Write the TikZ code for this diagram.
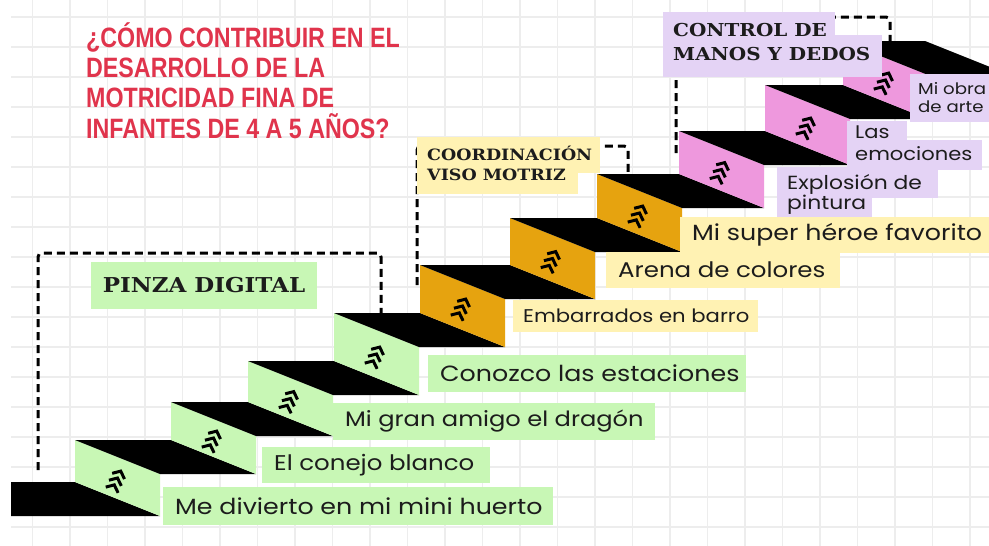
\documentclass[tikz,border=0pt]{standalone}
\usepackage{fontspec}
\newfontfamily\bodyfont[FakeStretch=1.15]{Poppins}
\newfontfamily\titlefont[FakeStretch=0.83]{Liberation Sans}
\newfontfamily\secfont[FakeStretch=1.12]{DejaVu Serif}
\definecolor{gfill}{HTML}{C8F7B5}
\definecolor{ofill}{HTML}{E6A30F}
\definecolor{pfill}{HTML}{EE98DD}
\definecolor{yfill}{HTML}{FFF2B3}
\definecolor{lfill}{HTML}{E4D3F5}
\definecolor{tred}{HTML}{E0344C}
\definecolor{gridc}{HTML}{EDEDED}
\definecolor{txt}{HTML}{1C1C1C}
\tikzset{
  bracketline/.style={line width=3pt, dash pattern=on 8pt off 5pt, rounded corners=4pt, black},
  lab/.style={anchor=west, inner sep=0pt, text=txt},
  ttl/.style={anchor=base west, inner sep=0pt, text=tred, font=\titlefont\bfseries\fontsize{28}{30}\selectfont},
  sec/.style={anchor=base west, inner sep=0pt, text=txt},
  small/.style={anchor=base west, inner sep=0pt, text=txt, font=\bodyfont\fontsize{18.3}{20}\selectfont},
  chev/.pic={
    \foreach \k in {0,1,2}{
      \draw[line width=3pt, black, line cap=butt, line join=miter]
        (-6.8pt,{7.6pt*(1-\k)-5.6pt}) -- (0pt,{7.6pt*(1-\k)}) -- (6.8pt,{7.6pt*(1-\k)-5.6pt});
    }
  }
}
\begin{document}
\begin{tikzpicture}[x=1pt,y=-1pt]
\useasboundingbox (0,0) rectangle (989,546);
\fill[white] (0,0) rectangle (989,546);
% grid
\foreach \gx in {32.5,70,...,989}{\draw[gridc,line width=1.3pt] (\gx,0) -- (\gx,546);}
\foreach \gy in {17,47,...,546}{\draw[gridc,line width=1.3pt] (11,\gy) -- (989,\gy);}

% dashed brackets
\coordinate (pA) at (38,470);
\coordinate (pB) at (38,253);
\coordinate (pC) at (381,253);
\coordinate (pD) at (381,314);
\draw[bracketline] (pA) -- (pB) -- (pC) -- (pD);
\coordinate (cA) at (417,285);
\coordinate (cB) at (417,146);
\coordinate (cC) at (628,146);
\coordinate (cD) at (628,175);
\draw[bracketline] (cA) -- (cB) -- (cC) -- (cD);
\coordinate (mA) at (676,153);
\coordinate (mB) at (676,17);
\coordinate (mC) at (890,17);
\coordinate (mD) at (890,42);
\draw[bracketline] (mA) -- (mB) -- (mC) -- (mD);

% base block
\fill[black] (11,482) -- (75,482) -- (160,516) -- (11,516) -- cycle;

% stairs
\foreach \xa/\ya/\xn/\yp/\c in {75/440/171/482/gfill, 171/402/248/440/gfill, 248/361/334/402/gfill, 334/313/420/361/gfill, 420/265/510/313/ofill, 510/218/597/265/ofill, 597/174/679/218/ofill, 679/131/765/174/pfill, 765/85/843/131/pfill, 843/41/925/85/pfill}{
  \fill[\c] (\xa,\ya) -- (\xa+85,\ya+34) -- (\xa+85,\yp+34) -- (\xa,\yp) -- cycle;
  \fill[black] (\xa,\ya) -- (\xn,\ya) -- (\xn+85,\ya+34) -- (\xa+85,\ya+34) -- cycle;
  \pic[rotate=-25] at ({\xa+42.5},{(\ya+\yp)/2+17}) {chev};
}

% title
\node[ttl] (t1) at (86,47) {¿CÓMO CONTRIBUIR EN EL};
\node[ttl] (t2) at (86,77) {DESARROLLO DE LA};
\node[ttl] (t3) at (86,107) {MOTRICIDAD FINA DE};
\node[ttl] (t4) at (86,138) {INFANTES DE 4 A 5 AÑOS?};

% section labels
\node[rectangle, fill=gfill, minimum width=226pt, minimum height=47pt, inner sep=0pt, text=txt,
  font=\secfont\bfseries\fontsize{20.5}{24}\selectfont] (pinza) at (204,285.5) {PINZA DIGITAL};

\fill[yfill] (417,137) rectangle (600,173);
\fill[yfill] (417,172) rectangle (578,194);
\node[sec, font=\secfont\bfseries\fontsize{15.6}{20}\selectfont] (coord1) at (427,160) {COORDINACIÓN};
\node[sec, font=\secfont\bfseries\fontsize{15.6}{20}\selectfont] (coord2) at (427,180) {VISO MOTRIZ};

\fill[lfill] (663,12) rectangle (835,36);
\fill[lfill] (663,35) rectangle (882,77);
\node[sec, font=\secfont\bfseries\fontsize{17.8}{20}\selectfont] (ctrl1) at (673,36) {CONTROL DE};
\node[sec, font=\secfont\bfseries\fontsize{17.8}{20}\selectfont] (ctrl2) at (673,60) {MANOS Y DEDOS};

% activity labels
\fill[gfill] (163,487) rectangle (553,525);
\node[lab, font=\bodyfont\fontsize{22}{24}\selectfont] (l1) at (175,506) {Me divierto en mi mini huerto};
\fill[gfill] (262,447) rectangle (490,483);
\node[lab, font=\bodyfont\fontsize{21.3}{24}\selectfont] (l2) at (274,465) {El conejo blanco};
\fill[gfill] (333,403) rectangle (655,440);
\node[lab, font=\bodyfont\fontsize{21}{24}\selectfont] (l3) at (345,421.5) {Mi gran amigo el dragón};
\fill[gfill] (428,355) rectangle (746,392);
\node[lab, font=\bodyfont\fontsize{22}{24}\selectfont] (l4) at (440,373.5) {Conozco las estaciones};
\fill[yfill] (513,300) rectangle (758,332);
\node[lab, font=\bodyfont\fontsize{18.4}{20}\selectfont] (l5) at (523,316) {Embarrados en barro};
\fill[yfill] (606,252) rectangle (840,288);
\node[lab, font=\bodyfont\fontsize{21.3}{24}\selectfont] (l6) at (618,270) {Arena de colores};

\fill[lfill] (777,167) rectangle (938,198);
\fill[lfill] (777,197) rectangle (872,222);
\node[small, font=\bodyfont\fontsize{19}{20}\selectfont] (l8a) at (787,189) {Explosión de};
\node[small, font=\bodyfont\fontsize{19}{20}\selectfont] (l8b) at (787,209) {pintura};

\fill[yfill] (680,217) rectangle (989,253);
\node[lab, font=\bodyfont\fontsize{22}{24}\selectfont] (l7) at (692,235) {Mi super héroe favorito};

\fill[lfill] (847,121) rectangle (907,141);
\fill[lfill] (847,140) rectangle (982,170);
\node[small] (l9a) at (855,138) {Las};
\node[small] (l9b) at (855,160) {emociones};

\fill[lfill] (910,74) rectangle (989,122);
\node[small, font=\bodyfont\fontsize{15.8}{18}\selectfont] (l10a) at (918,94) {Mi obra};
\node[small, font=\bodyfont\fontsize{15.8}{18}\selectfont] (l10b) at (918,112) {de arte};
\end{tikzpicture}
\end{document}
